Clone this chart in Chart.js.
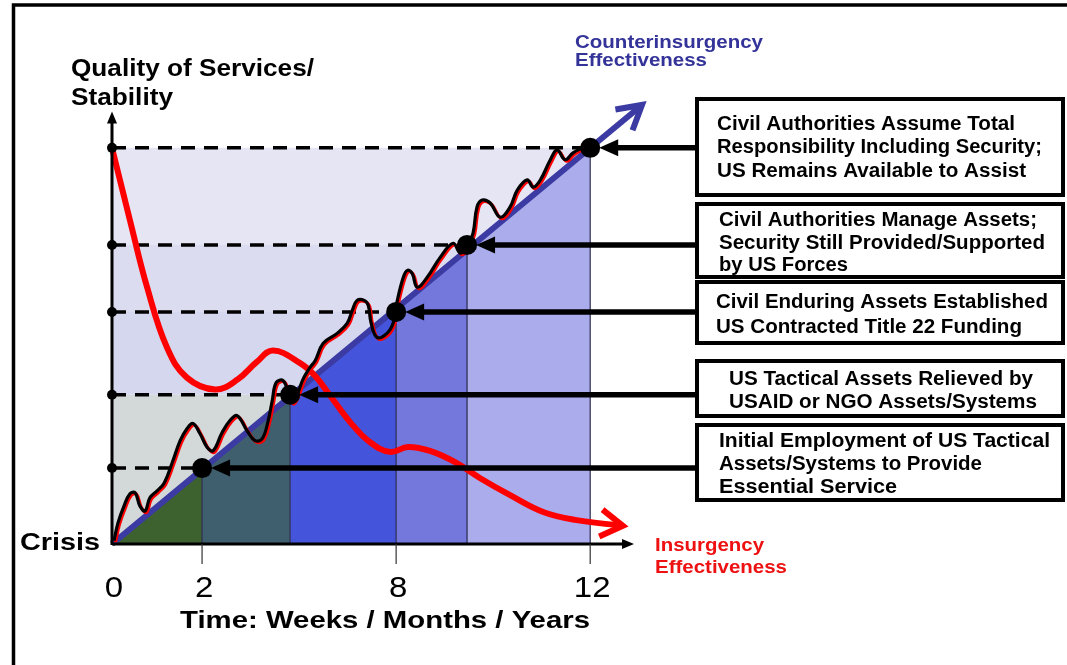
<!DOCTYPE html>
<html><head><meta charset="utf-8">
<script src="https://cdn.jsdelivr.net/npm/chart.js@4/dist/chart.umd.min.js"></script>
<style>html,body{margin:0;padding:0;background:#fff}#wrap{width:1067px;height:665px;position:relative}</style>
</head><body><div id="wrap"><canvas id="c"></canvas></div>
<script>
// ---------------- data ----------------
const stageEnd   = [2.26, 4.47, 7.13, 8.91, 12];   // time position of each stage boundary
const stageLevel = [2.30, 4.52, 7.03, 9.06, 12];   // quality / stability level reached at each stage
const tickValues = [0, 2.26, 7.13, 12];
const tickLabels = ['0', '2', '8', '12'];
const diagonalX = [0, 13.3];
const diagonalY = [0, 13.3];
const insurgencyX = [0, 0.45, 0.88, 1.38, 1.88, 2.59, 3.15, 3.62, 4.04, 4.72, 5.10, 5.47, 5.97, 6.47, 6.98, 7.43, 7.98, 8.61, 9.23, 9.99, 10.82, 11.62, 12.82];
const insurgencyY = [12.0, 9.81, 7.78, 5.95, 5.04, 4.68, 4.98, 5.50, 5.86, 5.48, 5.09, 4.50, 3.70, 3.09, 2.79, 2.94, 2.82, 2.48, 2.00, 1.48, 0.97, 0.73, 0.55];
const progressX = [0.05,0.15,0.30,0.45,0.58,0.70,0.83,0.95,1.13,1.31,1.51,1.71,1.88,2.03,2.21,2.39,2.54,2.76,2.96,3.14,3.39,3.59,3.77,3.92,4.02,4.12,4.29,4.42,4.52,4.64,4.80,4.97,5.10,5.30,5.65,5.90,6.03,6.15,6.33,6.43,6.50,6.65,6.90,7.06,7.16,7.31,7.41,7.53,7.66,7.91,8.24,8.56,8.74,8.91,9.06,9.16,9.29,9.49,9.74,9.99,10.17,10.42,10.57,10.75,11.00,11.17,11.37,11.57,11.80];
const progressY = [0.10,0.64,1.15,1.52,1.55,1.15,1.00,1.40,1.61,1.85,2.46,3.13,3.49,3.65,3.34,2.92,2.83,3.37,3.74,3.89,3.43,3.13,3.19,3.74,4.34,4.89,4.95,4.59,4.28,4.50,5.01,5.35,5.56,6.08,6.38,6.68,7.08,7.38,7.38,7.23,6.71,6.26,6.38,6.71,7.38,8.08,8.29,8.20,7.78,8.08,8.69,9.11,8.81,8.99,9.42,10.21,10.42,10.33,9.90,10.21,10.72,11.03,10.81,11.03,11.64,11.94,11.64,11.85,12.00];
const boxText = [
  ['Civil Authorities Assume Total', 'Responsibility Including Security;', 'US Remains Available to Assist'],
  ['Civil Authorities Manage Assets;', 'Security Still Provided/Supported', 'by US Forces'],
  ['Civil Enduring Assets Established', 'US Contracted Title 22 Funding'],
  ['US Tactical Assets Relieved by', 'USAID or NGO Assets/Systems'],
  ['Initial Employment of US Tactical', 'Assets/Systems to Provide', 'Essential Service']
];
const yAxisTitle = ['Quality of Services/', 'Stability'];
const xAxisTitle = 'Time: Weeks / Months / Years';
const counterTitle = ['Counterinsurgency', 'Effectiveness'];
const insurgencyTitle = ['Insurgency', 'Effectiveness'];
const originLabel = 'Crisis';

// ---------------- styles ----------------
const FONT = '"Liberation Sans", Arial, sans-serif';
const bandColors = ['#d3d9d9', '#d5d7ef', '#dcdcf1', '#e5e5f4'];
const stageColors = ['#3d6230', '#3f5f6e', '#4455dc', '#7477dc', '#abacec'];
const pts = (xs, ys) => xs.map((x, i) => ({x, y: ys[i]}));
const base = {pointRadius: 0, clip: false, tension: 0, fill: false};

const datasets = [];
// dots on diagonal
datasets.push({...base, data: pts(stageEnd, stageLevel), showLine: false, pointRadius: 10, pointBackgroundColor: '#000', pointBorderWidth: 0, order: 1});
// dots on y axis
datasets.push({...base, data: pts(stageLevel.map(() => 0), stageLevel), showLine: false, pointRadius: 5, pointBackgroundColor: '#000', pointBorderWidth: 0, order: 1});
// progress squiggle (black with red edge)
datasets.push({...base, data: pts(progressX, progressY), borderColor: '#000', borderWidth: 3.2, tension: 0.4, redEdge: true, order: 5});
// insurgency curve
datasets.push({...base, data: pts(insurgencyX, insurgencyY), borderColor: '#ff0000', borderWidth: 6, tension: 0.4, order: 8});
// counterinsurgency diagonal
datasets.push({...base, data: pts(diagonalX, diagonalY), borderColor: '#3b3ba3', borderWidth: 6, order: 10});
// dashed level lines
stageLevel.forEach((L, i) => datasets.push({...base, data: [{x: 0, y: L}, {x: stageEnd[i], y: L}], borderColor: '#000', borderWidth: 3.5, borderDash: [14, 9], order: 20}));
// stage dividers
stageEnd.forEach(b => datasets.push({...base, data: [{x: b, y: 0}, {x: b, y: b}], borderColor: '#2a2a50', borderWidth: 1.2, order: 30}));
// stage fills under the diagonal
const starts = [0, ...stageEnd.slice(0, -1)];
stageEnd.forEach((b, i) => datasets.push({...base, data: [{x: starts[i], y: starts[i]}, {x: b, y: b}], borderWidth: 0, borderColor: 'rgba(0,0,0,0)', backgroundColor: stageColors[i], fill: 'origin', order: 40}));
// horizontal bands
const bandTops = stageLevel.slice(1);
const bandBottoms = [0, ...stageLevel.slice(1, 4)];
bandTops.forEach((t, i) => datasets.push({...base, data: [{x: 0, y: t}, {x: stageEnd[4], y: t}], borderWidth: 0, borderColor: 'rgba(0,0,0,0)', backgroundColor: bandColors[i], fill: {value: bandBottoms[i]}, order: 50}));

function stretchText(ctx, str, x, y, width) {
  const w = ctx.measureText(str).width;
  ctx.save();
  ctx.translate(x, y);
  ctx.scale(width / w, 1);
  ctx.textAlign = 'left';
  ctx.textBaseline = 'alphabetic';
  ctx.fillText(str, 0, 0);
  ctx.restore();
}
function chevron(ctx, tx, ty, ang, len, spread) {
  ctx.beginPath();
  ctx.moveTo(tx - len * Math.cos(ang - spread), ty - len * Math.sin(ang - spread));
  ctx.lineTo(tx, ty);
  ctx.lineTo(tx - len * Math.cos(ang + spread), ty - len * Math.sin(ang + spread));
  ctx.stroke();
}

const redEdge = {
  id: 'redEdge',
  beforeDatasetDraw(chart, args) {
    if (chart.data.datasets[args.index].redEdge) {
      const c = chart.ctx; c.save();
      c.shadowColor = '#ff0000'; c.shadowOffsetX = 1.5; c.shadowOffsetY = 1.5; c.shadowBlur = 0;
    }
  },
  afterDatasetDraw(chart, args) {
    if (chart.data.datasets[args.index].redEdge) chart.ctx.restore();
  }
};

const decor = {
  id: 'decor',
  afterDatasetsDraw(chart) {
    const ctx = chart.ctx;
    const X = v => chart.scales.x.getPixelForValue(v);
    const Y = v => chart.scales.y.getPixelForValue(v);
    ctx.save();
    const x0 = X(0), y0 = Y(0), xe = X(13.1), ye = Y(13.1);
    ctx.strokeStyle = '#000'; ctx.fillStyle = '#000'; ctx.lineWidth = 3;
    ctx.beginPath(); ctx.moveTo(x0, y0); ctx.lineTo(xe - 8, y0); ctx.stroke();
    ctx.beginPath(); ctx.moveTo(xe, y0); ctx.lineTo(xe - 12, y0 - 5); ctx.lineTo(xe - 12, y0 + 5); ctx.closePath(); ctx.fill();
    ctx.beginPath(); ctx.moveTo(x0, y0 + 1); ctx.lineTo(x0, ye + 8); ctx.stroke();
    ctx.beginPath(); ctx.moveTo(x0, ye); ctx.lineTo(x0 - 5, ye + 12); ctx.lineTo(x0 + 5, ye + 12); ctx.closePath(); ctx.fill();
    // tick marks
    ctx.lineWidth = 1.2; ctx.strokeStyle = '#333';
    tickValues.slice(1).forEach(v => { ctx.beginPath(); ctx.moveTo(X(v), y0); ctx.lineTo(X(v), y0 + 20); ctx.stroke(); });
    // tick labels
    ctx.fillStyle = '#000'; ctx.font = '30px ' + FONT;
    tickValues.forEach((v, i) => {
      const w = ctx.measureText(tickLabels[i]).width * 1.1;
      stretchText(ctx, tickLabels[i], X(v) + 2 - w / 2, y0 + 53, w);
    });
    // red arrowhead
    const n = insurgencyX.length;
    const tx = X(insurgencyX[n - 1]), ty = Y(insurgencyY[n - 1]);
    const ang = Math.atan2(ty - Y(insurgencyY[n - 2]), tx - X(insurgencyX[n - 2]));
    ctx.strokeStyle = '#ff0000'; ctx.lineWidth = 6; ctx.lineJoin = 'miter'; ctx.lineCap = 'butt';
    chevron(ctx, tx, ty, ang, 26, 0.55);
    // diagonal arrowhead
    const dx = X(diagonalX[1]), dy = Y(diagonalY[1]);
    const dang = Math.atan2(dy - Y(diagonalY[0]), dx - X(diagonalX[0]));
    ctx.strokeStyle = '#3b3ba3'; ctx.lineWidth = 6;
    chevron(ctx, dx, dy, dang, 27, 0.52);
    ctx.restore();
  },
  afterDraw(chart) {
    const ctx = chart.ctx;
    const X = v => chart.scales.x.getPixelForValue(v);
    const Y = v => chart.scales.y.getPixelForValue(v);
    ctx.save();
    // outer frame
    ctx.strokeStyle = '#000'; ctx.lineWidth = 3.5;
    ctx.beginPath(); ctx.moveTo(13.5, 665); ctx.lineTo(13.5, 5); ctx.lineTo(1067, 5); ctx.stroke();
    // boxes
    const boxes = [[97, 197], [202, 279], [280, 345], [359, 418], [423, 502]];
    const boxLayout = [
      {x: 717, ys: [130, 153, 177], ws: [298, 325, 309]},
      {x: 719, ys: [226, 249, 271], ws: [318, 326, 129]},
      {x: 716, ys: [308, 333], ws: [332, 306]},
      {x: 729, ys: [385, 408], ws: [304, 308]},
      {x: 719, ys: [447, 470, 493], ws: [331, 263, 178]}
    ];
    boxes.forEach(([t, b], i) => {
      ctx.fillStyle = '#fff'; ctx.fillRect(695, t, 370, b - t);
      ctx.strokeStyle = '#000'; ctx.lineWidth = 4; ctx.strokeRect(697, t + 2, 366, b - t - 4);
      ctx.fillStyle = '#000'; ctx.font = 'bold 20px ' + FONT;
      boxText[i].forEach((s, j) => stretchText(ctx, s, boxLayout[i].x, boxLayout[i].ys[j], boxLayout[i].ws[j]));
    });
    // arrows from boxes to stage points
    stageEnd.forEach((b, i) => {
      const y = Y(stageLevel[i]), tip = X(b) + 9;
      ctx.strokeStyle = '#000'; ctx.lineWidth = 5.5;
      ctx.beginPath(); ctx.moveTo(695, y); ctx.lineTo(tip + 14, y); ctx.stroke();
      ctx.fillStyle = '#000';
      ctx.beginPath(); ctx.moveTo(tip, y); ctx.lineTo(tip + 19, y - 8.5); ctx.lineTo(tip + 19, y + 8.5); ctx.closePath(); ctx.fill();
    });
    // titles
    ctx.fillStyle = '#000'; ctx.font = 'bold 23px ' + FONT;
    stretchText(ctx, yAxisTitle[0], 71, 76, 243);
    stretchText(ctx, yAxisTitle[1], 71, 105, 102);
    stretchText(ctx, originLabel, 20, 550, 80);
    ctx.font = 'bold 24px ' + FONT;
    stretchText(ctx, xAxisTitle, 180, 628, 410);
    ctx.fillStyle = '#333399'; ctx.font = 'bold 18px ' + FONT;
    stretchText(ctx, counterTitle[0], 575, 48, 188);
    stretchText(ctx, counterTitle[1], 575, 66, 132);
    ctx.fillStyle = '#ee1111'; ctx.font = 'bold 19px ' + FONT;
    stretchText(ctx, insurgencyTitle[0], 655, 551, 109);
    stretchText(ctx, insurgencyTitle[1], 655, 573, 132);
    ctx.restore();
  }
};

new Chart(document.getElementById('c'), {
  type: 'line',
  data: {datasets},
  options: {
    responsive: true, maintainAspectRatio: false, animation: false, devicePixelRatio: 1,
    layout: {padding: {left: 112, top: 100, right: 425, bottom: 121}},
    scales: {
      x: {type: 'linear', min: 0, max: 13.3, display: false},
      y: {type: 'linear', min: 0, max: 13.45, display: false}
    },
    plugins: {legend: {display: false}, tooltip: {enabled: false}},
    events: []
  },
  plugins: [redEdge, decor]
});
</script></body></html>
